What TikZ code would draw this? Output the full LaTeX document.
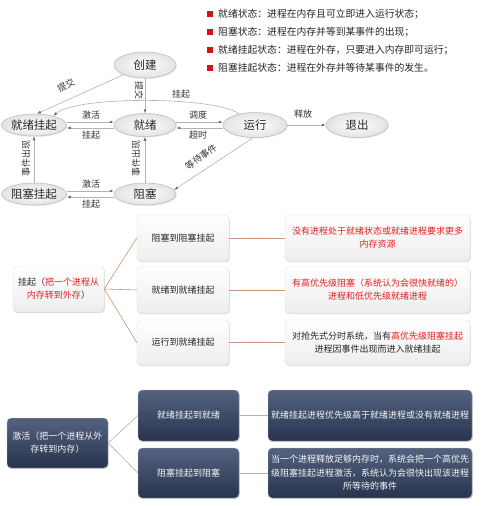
\documentclass[tikz,border=0pt]{standalone}
\usepackage{fontspec}
\setmainfont{Noto Sans CJK SC}
\usetikzlibrary{shapes.geometric,arrows.meta,shadows,calc}
\definecolor{myred}{RGB}{226,32,32}
\definecolor{legred}{RGB}{210,20,20}
\definecolor{conn}{RGB}{200,150,120}
\definecolor{darktop}{RGB}{84,98,128}
\definecolor{darkbot}{RGB}{40,52,78}
\begin{document}
\begin{tikzpicture}[x=1pt,y=-1pt,
  state/.style={ellipse, draw=gray!55, line width=0.5pt, inner sep=0pt,
    minimum width=63pt, minimum height=23pt, inner color=white, outer color=gray!22,
    drop shadow={opacity=0.18, shadow xshift=0.8pt, shadow yshift=-1pt},
    font=\fontsize{11.5}{12}\selectfont, text=black!85},
  arr/.style={draw=gray!60, line width=0.6pt, -{Latex[length=4pt,width=3pt,color=gray!85!black]}},
  lab/.style={font=\fontsize{9}{9}\selectfont, inner sep=0.5pt, text=black!80},
  leg/.style={anchor=west, inner sep=0pt, font=\fontsize{9.8}{10}\selectfont, text=black!85},
  lbox/.style={rounded corners=4pt, draw=gray!25, line width=0.4pt, top color=white, bottom color=gray!14,
    drop shadow={opacity=0.25, shadow xshift=0.8pt, shadow yshift=-1.2pt},
    align=center, inner sep=2pt, font=\fontsize{9}{13}\selectfont, text=black!85},
  dbox/.style={rounded corners=4pt, draw=gray!45, line width=0.4pt, top color=darktop, bottom color=darkbot,
    drop shadow={opacity=0.3, shadow xshift=0.8pt, shadow yshift=-1.2pt},
    align=center, inner sep=2pt, font=\fontsize{9}{13}\selectfont, text=white!92!gray},
  cline/.style={draw=conn, line width=0.6pt},
  gline/.style={draw=gray!60, line width=0.6pt}
]
\useasboundingbox (0,0) rectangle (500,506);
\fill[white] (0,0) rectangle (500,506);

% legend
\foreach \yy/\tt in {14/{就绪状态：进程在内存且可立即进入运行状态；},
                     32/{阻塞状态：进程在内存并等到某事件的出现；},
                     50/{就绪挂起状态：进程在外存，只要进入内存即可运行；},
                     68/{阻塞挂起状态：进程在外存并等待某事件的发生。}}{
  \fill[legred] (207,\yy-2.8) rectangle (212.6,\yy+2.8);
  \node[leg] at (218,\yy) {\tt};
}

% states
\node[state, minimum width=62pt, minimum height=26pt] (cj) at (145,65) {创建};
\node[state, minimum width=64pt, minimum height=22pt] (jg) at (34,125) {就绪挂起};
\node[state, minimum width=62pt, minimum height=23pt] (jx) at (145,125) {就绪};
\node[state, minimum width=64pt, minimum height=25pt] (yx) at (255,125) {运行};
\node[state, minimum width=62pt, minimum height=25pt] (tc) at (357,125) {退出};
\node[state, minimum width=64pt, minimum height=22pt] (zg) at (34,194) {阻塞挂起};
\node[state, minimum width=62pt, minimum height=22pt] (zs) at (145,194) {阻塞};

% transitions
\draw[arr] (cj) -- ([xshift=3pt]jg.north);
\node[lab, rotate=28] (l1) at (66,85) {提交};
\draw[arr] (cj) -- (jx);
\node[lab, rotate=-90] (l2) at (139,90) {提交};
\draw[arr] (yx.145) .. controls (215,96) and (75,96) .. (jg.25);
\node[lab] (l3) at (181,94) {挂起};

\draw[arr] ([yshift=3pt]jg.east) -- ([yshift=3pt]jx.west);
\draw[arr] ([yshift=-3pt]jx.west) -- ([yshift=-3pt]jg.east);
\node[lab] (l4) at (91,115) {激活};
\node[lab] (l5) at (91,135) {挂起};

\draw[arr] ([yshift=3pt]jx.east) -- ([yshift=3pt]yx.west);
\draw[arr] ([yshift=-3pt]yx.west) -- ([yshift=-3pt]jx.east);
\node[lab] (l6) at (198,115) {调度};
\node[lab] (l7) at (198,135) {超时};

\draw[arr] (yx) -- (tc);
\node[lab] (l8) at (303,114) {释放};

\draw[arr] ([xshift=-2pt]yx.south) -- (zs.8);
\node[lab, rotate=35] (l9) at (201,157) {等待事件};

\draw[arr] (zg) -- (jg);
\node[lab, rotate=90] (l10) at (26,158) {事件出现};
\draw[arr] (zs) -- (jx);
\node[lab, rotate=90] (l11) at (136,158) {事件出现};

\draw[arr] ([yshift=3pt]zg.east) -- ([yshift=3pt]zs.west);
\draw[arr] ([yshift=-3pt]zs.west) -- ([yshift=-3pt]zg.east);
\node[lab] (l12) at (91,184) {激活};
\node[lab] (l13) at (91,204) {挂起};

% suspend section
\node[lbox, minimum width=91pt, minimum height=46pt] (gq) at (58.5,289)
  {挂起（\textcolor{myred}{把一个进程从}\\\textcolor{myred}{内存转到外存}）};
\node[lbox, minimum width=92pt, minimum height=46pt] (m1) at (183,238) {阻塞到阻塞挂起};
\node[lbox, minimum width=92pt, minimum height=46pt] (m2) at (183,290) {就绪到就绪挂起};
\node[lbox, minimum width=92pt, minimum height=45pt] (m3) at (183,342.5) {运行到就绪挂起};
\node[lbox, minimum width=185pt, minimum height=46pt, text=myred] (r1) at (377.5,238)
  {没有进程处于就绪状态或就绪进程要求更多\\内存资源};
\node[lbox, minimum width=185pt, minimum height=46pt, text=myred] (r2) at (377.5,290)
  {有高优先级阻塞（系统认为会很快就绪的）\\进程和低优先级就绪进程};
\node[lbox, minimum width=185pt, minimum height=45pt] (r3) at (377.5,342.5)
  {对抢先式分时系统，当有\textcolor{myred}{高优先级阻塞挂起}\\进程因事件出现而进入就绪挂起};
\draw[cline] (gq.east) -- (m1.west);
\draw[cline] (gq.east) -- (m2.west);
\draw[cline] (gq.east) -- (m3.west);
\draw[cline] (m1.east) -- (r1.west);
\draw[cline] (m2.east) -- (r2.west);
\draw[cline] (m3.east) -- (r3.west);

% activate section
\node[dbox, minimum width=101pt, minimum height=50pt] (jh) at (57.5,443)
  {激活（把一个进程从外\\存转到内存）};
\node[dbox, minimum width=101pt, minimum height=51pt] (n1) at (188.5,415.5) {就绪挂起到就绪};
\node[dbox, minimum width=101pt, minimum height=50pt] (n2) at (188.5,473) {阻塞挂起到阻塞};
\node[dbox, minimum width=204pt, minimum height=51pt] (s1) at (370,415.5)
  {就绪挂起进程优先级高于就绪进程或没有就绪进程};
\node[dbox, minimum width=204pt, minimum height=50pt, font=\fontsize{9}{13.5}\selectfont] (s2) at (370,473)
  {当一个进程释放足够内存时，系统会把一个高优先\\级阻塞挂起进程激活，系统认为会很快出现该进程\\所等待的事件};
\draw[gline] (jh.east) -- (n1.west);
\draw[gline] (jh.east) -- (n2.west);
\draw[gline] (n1.east) -- (s1.west);
\draw[gline] (n2.east) -- (s2.west);
\end{tikzpicture}
\end{document}
